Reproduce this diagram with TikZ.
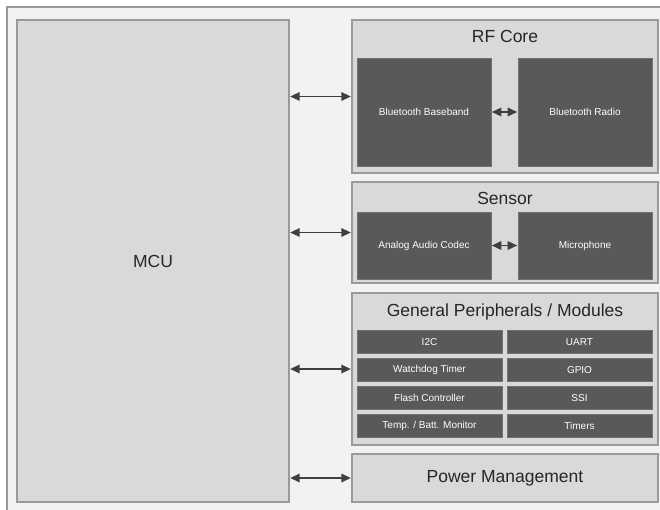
\documentclass[tikz,border=0pt]{standalone}
\usepackage{fontspec}
\setmainfont{Liberation Sans}
\usetikzlibrary{arrows.meta}

\definecolor{pagegray}{HTML}{F2F2F2}
\definecolor{boxgray}{HTML}{D9D9D9}
\definecolor{edgegray}{HTML}{9A9A9A}
\definecolor{darkgray}{HTML}{595959}
\definecolor{arrowgray}{HTML}{3F3F3F}

\tikzset{
  block/.style={draw=edgegray, fill=boxgray, line width=1.3pt, inner sep=0pt},
  unit/.style={fill=darkgray, draw=darkgray!85!white, line width=0.6pt, inner sep=0pt,
    text=white, font=\fontsize{10}{12}\selectfont},
  title/.style={inner sep=0pt, font=\fontsize{17.5}{20}\selectfont, text=black!85},
  link/.style={{Triangle[length=9.5pt,width=8.5pt]}-{Triangle[length=9.5pt,width=8.5pt]},
    draw=arrowgray, line width=1.5pt, shorten <=0.5pt, shorten >=0.5pt}
}

\begin{document}
\begin{tikzpicture}[x=1pt,y=-1pt]
	\useasboundingbox (0,0) rectangle (660,510);
	% page frame
	\fill[pagegray] (7,7) rectangle (660,510);
	\draw[edgegray,line width=1.3pt] (660,7) -- (7,7) -- (7,510);

	% main controller
	\node[block, minimum width=272pt, minimum height=482pt] (mcu) at (153,261) {};
	\node[title] (mculabel) at (mcu.center) {MCU};

	% rf core
	\node[block, minimum width=306pt, minimum height=153pt] (rf) at (505,96.5) {};
	\node[title] (rflabel) at (505,36) {RF Core};
	\node[unit, minimum width=134pt, minimum height=108pt] (bb) at (424,112) {Bluetooth Baseband};
	\node[unit, minimum width=134pt, minimum height=108pt] (br) at (585,112) {Bluetooth Radio};

	% sensor
	\node[block, minimum width=306pt, minimum height=101pt] (sensor) at (505,232.5) {};
	\node[title] (sensorlabel) at (505,198) {Sensor};
	\node[unit, minimum width=134pt, minimum height=67pt] (codec) at (424,245.5) {Analog Audio Codec};
	\node[unit, minimum width=134pt, minimum height=67pt] (mic) at (585,245.5) {Microphone};

	% peripherals
	\node[block, minimum width=306pt, minimum height=152pt] (gp) at (505,369) {};
	\node[title] (gplabel) at (505,312) {General Peripherals / Modules};
	\node[unit, minimum width=145pt, minimum height=23pt] (i2c) at (429.5,342) {I2C};
	\node[unit, minimum width=145pt, minimum height=23pt] (uart) at (579.5,342) {UART};
	\node[unit, minimum width=145pt, minimum height=23pt] (wdt) at (429.5,370) {Watchdog Timer};
	\node[unit, minimum width=145pt, minimum height=23pt] (gpio) at (579.5,370) {GPIO};
	\node[unit, minimum width=145pt, minimum height=23pt] (flash) at (429.5,398) {Flash Controller};
	\node[unit, minimum width=145pt, minimum height=23pt] (ssi) at (579.5,398) {SSI};
	\node[unit, minimum width=145pt, minimum height=23pt] (temp) at (429.5,426) {Temp. / Batt. Monitor};
	\node[unit, minimum width=145pt, minimum height=23pt] (timers) at (579.5,426) {Timers};

	% power
	\node[block, minimum width=306pt, minimum height=48pt] (pm) at (505,478) {};
	\node[title] (pmlabel) at (pm.center) {Power Management};

	% links
	\draw[link] (mcu.east |- rf.west) -- (rf.west);
	\draw[link] (mcu.east |- sensor.west) -- (sensor.west);
	\draw[link] (mcu.east |- gp.west) -- (gp.west);
	\draw[link] (mcu.east |- pm.west) -- (pm.west);
	\draw[link] (bb.east) -- (br.west);
	\draw[link] (codec.east) -- (mic.west);

\end{tikzpicture}
\end{document}
